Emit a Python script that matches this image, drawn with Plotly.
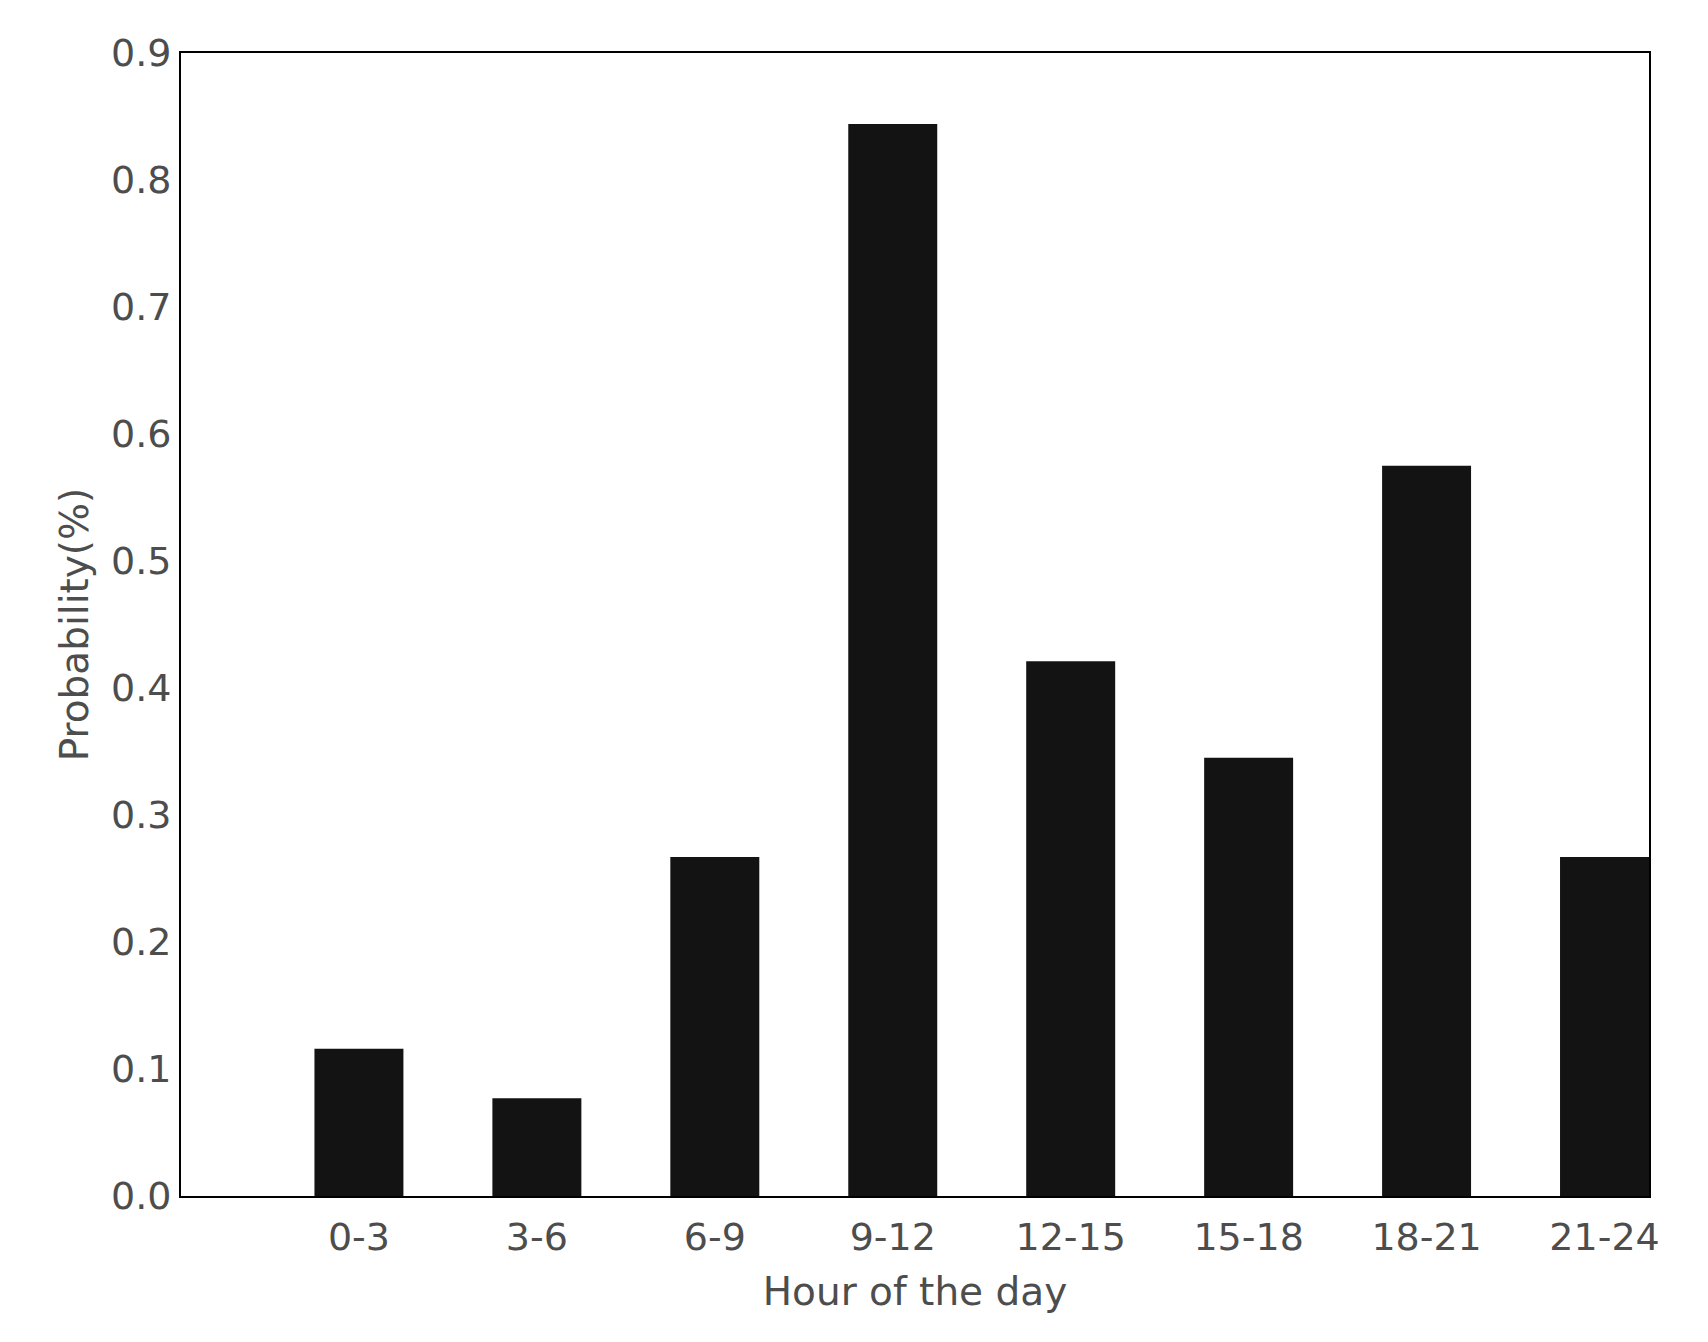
import plotly.graph_objects as go

categories = ["0-3", "3-6", "6-9", "9-12", "12-15", "15-18", "18-21", "21-24"]
probability = [0.116, 0.077, 0.267, 0.844, 0.421, 0.345, 0.575, 0.267]
y_ticks = [0.0, 0.1, 0.2, 0.3, 0.4, 0.5, 0.6, 0.7, 0.8, 0.9]

FONT = "DejaVu Sans"
TXT = "#4d4d4d"
FS = 39
FS_TICK = 38

fig = go.Figure(go.Bar(
    x=list(range(len(categories))),
    y=probability,
    width=0.5,
    marker=dict(color="#131313", line=dict(width=0)),
))

fig.update_layout(
    width=1708, height=1342,
    margin=dict(l=173, r=67, t=45, b=154),
    paper_bgcolor="white", plot_bgcolor="white",
    showlegend=False,
    font=dict(family=FONT, size=FS, color=TXT),
)
fig.update_xaxes(
    range=[-1, 7.25],
    tickmode="array",
    tickvals=list(range(len(categories))),
    ticktext=categories,
    ticks="",
    showgrid=False, zeroline=False,
    showline=True, mirror=True, linecolor="black", linewidth=2,
    tickfont=dict(family=FONT, size=FS_TICK, color=TXT),
    ticklabelstandoff=6,
    title=dict(text="Hour of the day", font=dict(family=FONT, size=FS, color=TXT), standoff=20),
)
fig.update_yaxes(
    range=[0, 0.9],
    tickmode="array",
    tickvals=y_ticks,
    ticktext=[f"{v:.1f}" for v in y_ticks],
    ticks="",
    showgrid=False, zeroline=False,
    showline=True, mirror=True, linecolor="black", linewidth=2,
    tickfont=dict(family=FONT, size=FS_TICK, color=TXT),
    ticklabelstandoff=0,
    title=dict(text="Probability(%)", font=dict(family=FONT, size=FS, color=TXT), standoff=10),
)

fig.write_html("out.html")
